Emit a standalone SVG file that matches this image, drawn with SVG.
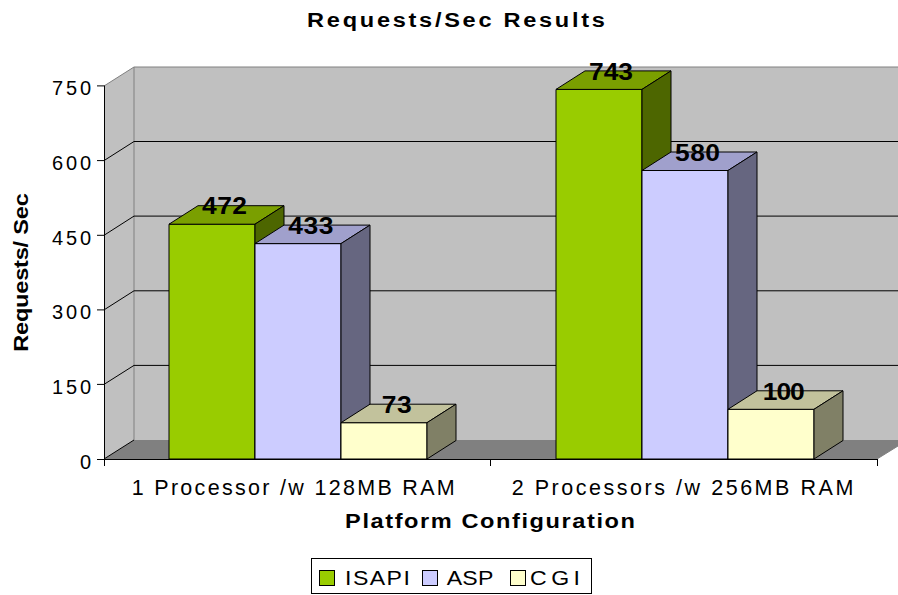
<svg xmlns="http://www.w3.org/2000/svg" width="898" height="595" viewBox="0 0 898 595">
<style>
text{font-family:"Liberation Sans",Arial,sans-serif;fill:#000}
.t{font-size:21px}
.c{font-size:21.5px}
.b{font-size:20.5px;font-weight:bold}
.v{font-size:24px;font-weight:bold;text-anchor:middle}
.tick{font-size:20px;text-anchor:end}
.grid{stroke:#000;stroke-width:1;fill:none}
.edge{stroke:#808080;stroke-width:1;fill:none}
.bar{stroke:#000;stroke-width:1;stroke-linejoin:round}
.ia{fill:#99CC00}.ib{fill:#7A9F00}.ic{fill:#4D6600}
.aa{fill:#CCCCFF}.ab{fill:#A0A0CC}.ac{fill:#666680}
.ca{fill:#FFFFCC}.cb{fill:#C2C29C}.cc{fill:#808066}
</style>
<rect width="898" height="595" fill="#fff"/>
<g id="title"><text class="b" transform="translate(456,27) scale(1.15,1)" text-anchor="middle" textLength="259" lengthAdjust="spacing">Requests/Sec Results</text></g>
<g id="walls">
<polygon points="104,86 134,67 134,440 104,459" fill="#C0C0C0"/>
<polygon points="134,67 898,67 898,440 134,440" fill="#C0C0C0"/>
<polygon points="104,459 134,440 898,440 898,446 877,459" fill="#808080"/>
<polyline class="edge" points="104,86 134,67 898,67"/>
<line class="edge" x1="134" y1="67" x2="134" y2="440"/>
<line class="edge" x1="877" y1="459" x2="898" y2="446"/>
</g>
<g id="gridlines">
<polyline class="grid" points="104,160.6 134,141.5 898,141.5"/>
<polyline class="grid" points="104,235.3 134,216.1 898,216.1"/>
<polyline class="grid" points="104,309.9 134,290.8 898,290.8"/>
<polyline class="grid" points="104,384.4 134,365.4 898,365.4"/>
<line class="grid" x1="104" y1="459" x2="134" y2="440"/>
</g>
<g id="axes">
<line class="grid" x1="104.5" y1="85.5" x2="104.5" y2="459"/>
<line class="grid" x1="104" y1="459.5" x2="877" y2="459.5"/>
<path class="grid" d="M97,85.9H104M97,160.6H104M97,235.3H104M97,309.9H104M97,384.4H104M97,459.5H104M104.5,459V466M490.5,459V466M877.5,459V466"/>
<text class="tick" x="91" y="95.3" textLength="39" lengthAdjust="spacing">750</text>
<text class="tick" x="91" y="170" textLength="39" lengthAdjust="spacing">600</text>
<text class="tick" x="91" y="244.7" textLength="39" lengthAdjust="spacing">450</text>
<text class="tick" x="91" y="319.3" textLength="39" lengthAdjust="spacing">300</text>
<text class="tick" x="91" y="393.8" textLength="39" lengthAdjust="spacing">150</text>
<text class="tick" x="91" y="468.5">0</text>
<text class="c" x="131.7" y="494.5" textLength="323" lengthAdjust="spacing">1 Processor /w 128MB RAM</text>
<text class="c" x="511.7" y="494.5" textLength="341.6" lengthAdjust="spacing">2 Processors /w 256MB RAM</text>
<text class="b" transform="translate(490,528) scale(1.15,1)" text-anchor="middle" textLength="252" lengthAdjust="spacing">Platform Configuration</text>
<text class="b" transform="translate(27.5,272.5) rotate(-90) scale(1.15,1)" text-anchor="middle" textLength="138" lengthAdjust="spacing">Requests/ Sec</text>
</g>
<g id="series-isapi">
<g class="bar"><rect class="ia" x="169" y="224.2" width="86" height="234.8"/><polygon class="ib" points="169,224.2 198,205.7 284,205.7 255,224.2"/><polygon class="ic" points="255,224.2 284,205.7 284,440.5 255,459"/></g>
<g class="bar"><rect class="ia" x="556" y="89.4" width="86" height="369.6"/><polygon class="ib" points="556,89.4 585,70.9 671,70.9 642,89.4"/><polygon class="ic" points="642,89.4 671,70.9 671,440.5 642,459"/></g>
</g>
<g id="series-asp">
<g class="bar"><rect class="aa" x="255" y="243.6" width="86" height="215.4"/><polygon class="ab" points="255,243.6 284,225.1 370,225.1 341,243.6"/><polygon class="ac" points="341,243.6 370,225.1 370,440.5 341,459"/></g>
<g class="bar"><rect class="aa" x="642" y="170.5" width="86" height="288.5"/><polygon class="ab" points="642,170.5 671,152 757,152 728,170.5"/><polygon class="ac" points="728,170.5 757,152 757,440.5 728,459"/></g>
</g>
<g id="series-cgi">
<g class="bar"><rect class="ca" x="341" y="422.7" width="86" height="36.3"/><polygon class="cb" points="341,422.7 370,404.2 456,404.2 427,422.7"/><polygon class="cc" points="427,422.7 456,404.2 456,440.5 427,459"/></g>
<g class="bar"><rect class="ca" x="728" y="409.3" width="86" height="49.7"/><polygon class="cb" points="728,409.3 757,390.8 843,390.8 814,409.3"/><polygon class="cc" points="814,409.3 843,390.8 843,440.5 814,459"/></g>
</g>
<g id="value-labels">
<text class="v" transform="translate(224.5,214.3) scale(1.1,1)" textLength="41" lengthAdjust="spacing">472</text>
<text class="v" transform="translate(310.8,234) scale(1.1,1)" textLength="41" lengthAdjust="spacing">433</text>
<text class="v" transform="translate(396.7,413.2) scale(1.1,1)" textLength="27.3" lengthAdjust="spacing">73</text>
<text class="v" transform="translate(611,79.5) scale(1.1,1)" textLength="40" lengthAdjust="spacing">743</text>
<text class="v" transform="translate(697.5,160.8) scale(1.1,1)" textLength="41" lengthAdjust="spacing">580</text>
<text class="v" transform="translate(783.8,399.8) scale(1.1,1)" textLength="38.2" lengthAdjust="spacing">100</text>
</g>
<g id="legend">
<rect x="311.5" y="558.5" width="280" height="35" fill="#fff" stroke="#000"/>
<rect class="ia" x="319.5" y="570.5" width="15" height="15" stroke="#000"/>
<text class="t" transform="translate(345,585) scale(1.1,1)" textLength="59" lengthAdjust="spacing">ISAPI</text>
<rect class="aa" x="422.5" y="570.5" width="15" height="15" stroke="#000"/>
<text class="t" transform="translate(446.7,585) scale(1.1,1)" textLength="42.5" lengthAdjust="spacing">ASP</text>
<rect class="ca" x="510.5" y="570.5" width="15" height="15" stroke="#000"/>
<text class="t" transform="translate(530,585) scale(1.1,1)" textLength="45.5" lengthAdjust="spacing">CGI</text>
</g>
</svg>
